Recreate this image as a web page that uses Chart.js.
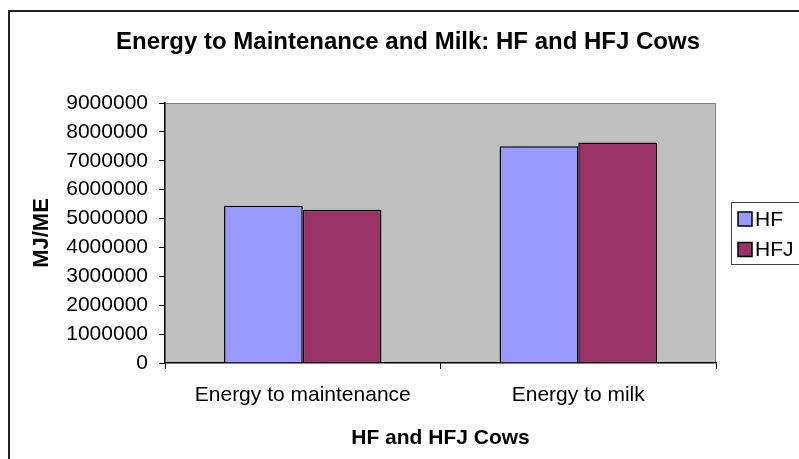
<!DOCTYPE html>
<html>
<head>
<meta charset="utf-8">
<script src="https://cdn.jsdelivr.net/npm/chart.js@4/dist/chart.umd.min.js"></script>
<style>
html, body { margin: 0; padding: 0; background: #fff; }
#wrap { width: 799px; height: 459px; }
</style>
</head>
<body>
<div id="wrap"><canvas id="chart" width="799" height="459"></canvas></div>
<script>
var categories = ["Energy to maintenance", "Energy to milk"];
var series_names = ["HF", "HFJ"];
var hf_values = [5445000, 7505000];
var hfj_values = [5305000, 7635000];
var y_max = 9000000;
var y_step = 1000000;

var chart_title = "Energy to Maintenance and Milk: HF and HFJ Cows";
var x_title = "HF and HFJ Cows";
var y_title = "MJ/ME";

var font_family = '"Liberation Sans", Arial, sans-serif';
Chart.defaults.font.family = font_family;
Chart.defaults.color = "#000";

var frame = {
    id: "frame",

    beforeDraw: function(chart) {
        var ctx = chart.ctx;
        var a = chart.chartArea;
        ctx.save();
        ctx.fillStyle = "#fff";
        ctx.fillRect(0, 0, chart.width, chart.height);

        //outer chart border, runs off the right and bottom edges
        ctx.strokeStyle = "#222";
        ctx.lineWidth = 2;
        ctx.strokeRect(9, 11, 900, 600);

        //grey plot area
        ctx.fillStyle = "#c0c0c0";
        ctx.fillRect(a.left, a.top, a.right - a.left, a.bottom - a.top);
        ctx.strokeStyle = "#808080";
        ctx.lineWidth = 1;
        ctx.beginPath();
        ctx.moveTo(a.left, a.top + 0.5);
        ctx.lineTo(a.right - 0.5, a.top + 0.5);
        ctx.lineTo(a.right - 0.5, a.bottom);
        ctx.stroke();
        ctx.restore();
    },

    afterDraw: function(chart) {
        var ctx = chart.ctx;
        ctx.save();

        //title
        ctx.fillStyle = "#000";
        ctx.font = "bold 24px " + font_family;
        ctx.textAlign = "center";
        ctx.textBaseline = "alphabetic";
        ctx.fillText(chart_title, 408, 49);

        //legend with box, also cut off at the right edge
        ctx.strokeStyle = "#404040";
        ctx.lineWidth = 1;
        ctx.strokeRect(731.5, 202.5, 200, 62);
        ctx.font = "21px " + font_family;
        ctx.textAlign = "left";
        ctx.textBaseline = "middle";
        var datasets = chart.data.datasets;
        for (var i = 0; i < datasets.length; i++) {
            var y = 212 + i * 30.5;
            ctx.fillStyle = datasets[i].backgroundColor;
            ctx.fillRect(738, y, 14, 14);
            ctx.strokeStyle = "#000";
            ctx.lineWidth = 1.5;
            ctx.strokeRect(738, y, 14, 14);
            ctx.fillStyle = "#000";
            ctx.fillText(datasets[i].label, 755, y + 8);
        }
        ctx.restore();
    }
};

new Chart(document.getElementById("chart"), {
    type: "bar",
    data: {
        labels: categories,
        datasets: [
            {
                label: series_names[0],
                data: hf_values,
                backgroundColor: "#9999ff",
                borderColor: "#000",
                borderWidth: 1.5
            },
            {
                label: series_names[1],
                data: hfj_values,
                backgroundColor: "#993366",
                borderColor: "#000",
                borderWidth: 1.5
            }
        ]
    },
    options: {
        responsive: false,
        animation: false,
        categoryPercentage: 2 / 3.5,
        barPercentage: 1,
        layout: {
            padding: { left: 0, top: 103, right: 83, bottom: 0 }
        },
        plugins: {
            legend: { display: false },
            title: { display: false },
            tooltip: { enabled: false }
        },
        scales: {
            x: {
                offset: true,
                grid: { offset: true, drawOnChartArea: false, tickLength: 6, color: "#000" },
                border: { color: "#000", width: 1.5 },
                ticks: { padding: 14, maxRotation: 0, font: { size: 21 }, color: "#000" },
                title: {
                    display: true,
                    text: x_title,
                    font: { size: 21, weight: "bold" },
                    padding: { top: 4, bottom: 8 }
                },
                afterFit: function(scale) { scale.height = 96; }
            },
            y: {
                min: 0,
                max: y_max,
                grid: { drawOnChartArea: false, tickLength: 6, color: "#000" },
                border: { color: "#000", width: 1.5 },
                ticks: {
                    stepSize: y_step,
                    autoSkip: false,
                    padding: 11,
                    font: { size: 21 },
                    color: "#000",
                    callback: function(value) { return String(value); }
                },
                title: {
                    display: true,
                    text: y_title,
                    font: { size: 22, weight: "bold" },
                    padding: { top: 29, bottom: 0 }
                },
                afterFit: function(scale) { scale.width = 165; }
            }
        }
    },
    plugins: [frame]
});
</script>
</body>
</html>
